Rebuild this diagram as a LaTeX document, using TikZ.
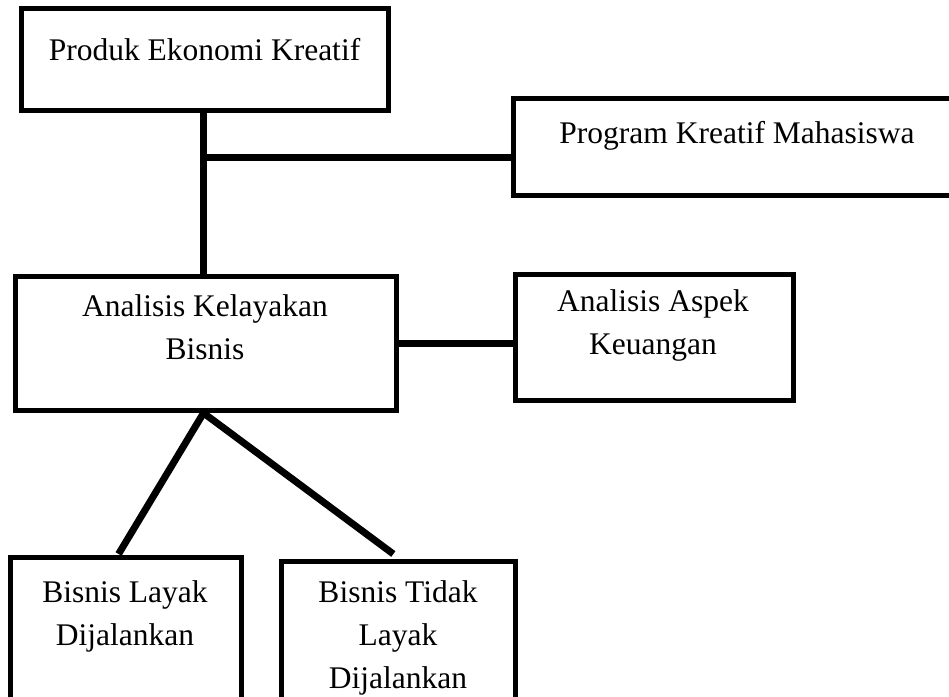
\documentclass[tikz,border=0pt]{standalone}
\usepackage{fontspec}
\setmainfont{Liberation Serif}
\usetikzlibrary{calc}
\tikzset{
  box/.style={draw=black, line width=5pt, fill=white, inner sep=0pt, outer sep=0pt},
  txt/.style={inner sep=0pt, outer sep=0pt, align=center, anchor=north,
              font=\fontsize{31.5}{43}\selectfont},
  conn/.style={line width=7pt, line cap=butt}
}
\begin{document}
\begin{tikzpicture}[x=1pt, y=-1pt]
\useasboundingbox (0,0) rectangle (949,696);
\clip (0,0) rectangle (949,696);
% boxes
\node[box, minimum width=367pt, minimum height=102pt] (pek) at (204.5,59) {};
\node[box, minimum width=448pt, minimum height=97pt] (pkm) at (737,146.5) {};
\node[box, minimum width=381pt, minimum height=134pt] (akb) at (205.5,343) {};
\node[box, minimum width=278pt, minimum height=126pt] (aak) at (654,337) {};
\node[box, minimum width=231pt, minimum height=160pt] (bld) at (125.5,637) {};
\node[box, minimum width=234pt, minimum height=160pt] (btl) at (398,641) {};
% texts
\node[txt] (tpek) at (204.5,38) {Produk Ekonomi Kreatif};
\node[txt] (tpkm) at (737,121) {Program Kreatif Mahasiswa};
\node[txt] (takb) at (205,295) {Analisis Kelayakan\\Bisnis};
\node[txt] (taak) at (653,290) {Analisis Aspek\\Keuangan};
\node[txt] (tbld) at (125,581) {Bisnis Layak\\Dijalankan};
\node[txt] (tbtl) at (398,581) {Bisnis Tidak\\Layak\\Dijalankan};
% connectors
\coordinate (j1) at ($(pek.south)+(-1,47)$);
\draw[conn] ($(pek.south)+(-1,0)$) -- ($(pek.south |- akb.north)+(-1,0)$);
\draw[conn] (j1) -- (j1 -| pkm.west);
\draw[conn] (akb.east) -- (akb.east -| aak.west);
\coordinate (apex) at ($(akb.south)+(-2,3)$);
\draw[conn] (apex) -- ($(bld.north west)!0.47!(bld.north east)+(0,-3)$);
\draw[conn] (apex) -- ($(btl.north west)!0.48!(btl.north east)+(0,-7)$);
\end{tikzpicture}
\end{document}
